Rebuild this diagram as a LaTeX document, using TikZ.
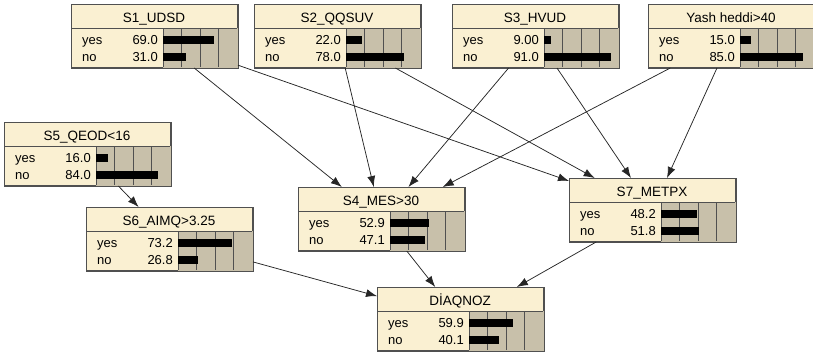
\documentclass[tikz,border=0pt]{standalone}
\usepackage{fontspec}
\setmainfont{Liberation Sans}
\usetikzlibrary{arrows.meta,calc}
\definecolor{nodecream}{RGB}{250,240,210}
\definecolor{bargray}{RGB}{200,192,170}
\definecolor{boxline}{RGB}{80,80,80}
\tikzset{
  bnbox/.style={draw=boxline,fill=nodecream,line width=1pt,minimum width=166pt,minimum height=63pt,anchor=north west,inner sep=0pt},
  bnlink/.style={draw=black!85,line width=0.75pt,-{Latex[length=11pt,width=8pt]}},
  bntext/.style={font=\fontsize{13}{15}\selectfont,inner sep=0pt},
  bntitle/.style={font=\fontsize{13.5}{15}\selectfont,inner sep=0pt}
}

\begin{document}
\begin{tikzpicture}[x=1pt,y=-1pt]
\useasboundingbox (0,0) rectangle (813,354);
% belief bar nodes: name/left/top/title/yes/no
\foreach \n/\l/\t/\title/\yes/\no in {
  udsd/71/4/S1\_UDSD/69.0/31.0,
  qqsuv/254/4/S2\_QQSUV/22.0/78.0,
  hvud/452/4/S3\_HVUD/9.00/91.0,
  yash/648/4/Yash heddi>40/15.0/85.0,
  qeod/4/122/S5\_QEOD<16/16.0/84.0,
  aimq/86/207/S6\_AIMQ>3.25/73.2/26.8,
  mes/298/187/S4\_MES>30/52.9/47.1,
  metpx/569/178/S7\_METPX/48.2/51.8,
  diaqnoz/377/287/DİAQNOZ/59.9/40.1}{
  \node[bnbox] (\n) at (\l,\t) {};
  \fill[bargray] ($(\n.north west)+(92,24)$) rectangle (\n.south east);
  \foreach \k in {1,2,3}
    \draw[boxline,line width=0.8pt] ($(\n.north west)+(92+18.5*\k,24)$) -- ++(0,39);
  \draw[boxline,line width=1pt] ($(\n.north west)+(92,24)$) -- ++(0,39);
  \draw[boxline,line width=1pt] ($(\n.north west)+(0,24)$) -- ++(166,0);
  \fill[black] ($(\n.north west)+(92,31.5)$) rectangle ++({0.74*\yes},8);
  \fill[black] ($(\n.north west)+(92,48.5)$) rectangle ++({0.74*\no},8);
  \draw[boxline,line width=1pt] (\n.north west) rectangle (\n.south east);
  \node[bntitle,anchor=base] at ($(\n.north west)+(83,18)$) {\title};
  \node[bntext,anchor=base west] at ($(\n.north west)+(11,40)$) {yes};
  \node[bntext,anchor=base east] at ($(\n.north west)+(87,40)$) {\yes};
  \node[bntext,anchor=base west] at ($(\n.north west)+(11,57)$) {no};
  \node[bntext,anchor=base east] at ($(\n.north west)+(87,57)$) {\no};
}
\draw[bnlink] (udsd) -- (mes);
\draw[bnlink] (udsd) -- (metpx);
\draw[bnlink] (qqsuv) -- (mes);
\draw[bnlink] (qqsuv) -- (metpx);
\draw[bnlink] (hvud) -- (mes);
\draw[bnlink] (hvud) -- (metpx);
\draw[bnlink] (yash) -- (mes);
\draw[bnlink] (yash) -- (metpx);
\draw[bnlink] (qeod) -- (aimq);
\draw[bnlink] (aimq) -- (diaqnoz);
\draw[bnlink] (mes) -- (diaqnoz);
\draw[bnlink] (metpx) -- (diaqnoz);
\end{tikzpicture}
\end{document}
